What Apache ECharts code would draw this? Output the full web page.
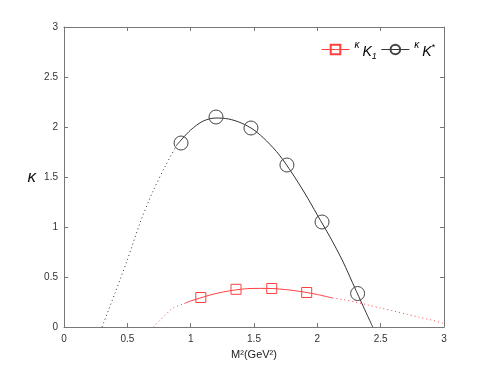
<!DOCTYPE html>
<html>
<head>
<meta charset="utf-8">
<script src="https://cdn.jsdelivr.net/npm/echarts@6/dist/echarts.min.js"></script>
<style>
  html, body { margin: 0; padding: 0; background: #fff; }
  #main { width: 491px; height: 368px; }
</style>
</head>
<body>
<div id="main"></div>
<script>
// K* : measured points (circles) and fitted curve (dotted extrapolation + solid)
const kstarPts = [[0.924, 1.84], [1.2, 2.10], [1.476, 1.99], [1.76, 1.62], [2.037, 1.05], [2.318, 0.335]];
const kstarDotted = [[0.30, 0], [0.4, 0.33], [0.5, 0.67], [0.6, 1.04], [0.7, 1.35], [0.8, 1.61], [0.89, 1.82]];
const kstarSolid = [[0.89, 1.82], [1.0, 1.97], [1.1, 2.06], [1.2, 2.09], [1.3, 2.08], [1.4, 2.04], [1.5, 1.97],
  [1.6, 1.86], [1.7, 1.72], [1.8, 1.54], [1.9, 1.34], [2.0, 1.12], [2.1, 0.90], [2.2, 0.66], [2.3, 0.38], [2.437, 0]];

// K1 : measured points (squares) and fitted curve
const k1Pts = [[1.08, 0.295], [1.358, 0.377], [1.64, 0.385], [1.916, 0.345]];
const k1DottedLeft = [[0.705, 0], [0.8, 0.12], [0.86, 0.19], [0.95, 0.235]];
const k1Solid = [[0.95, 0.235], [1.0, 0.26], [1.1, 0.30], [1.2, 0.335], [1.3, 0.36], [1.4, 0.378], [1.5, 0.386],
  [1.6, 0.386], [1.7, 0.38], [1.8, 0.367], [1.9, 0.348], [2.0, 0.325], [2.12, 0.29]];
const k1DottedRight = [[2.12, 0.29], [2.2, 0.275], [2.3, 0.25], [2.4, 0.22], [2.5, 0.19], [2.6, 0.16],
  [2.7, 0.13], [2.8, 0.10], [2.9, 0.07], [3.0, 0.035]];

const red = '#ff4040';
const black = '#333';
const fontFam = '"Liberation Sans", Arial, sans-serif';

const chart = echarts.init(document.getElementById('main'));

const axisCommon = {
  min: 0, max: 3, interval: 0.5,
  axisLine: { show: true, onZero: false, lineStyle: { color: '#777', width: 1 } },
  axisTick: { show: true, inside: true, length: 4, lineStyle: { color: '#777' } },
  splitLine: { show: false }
};

const lineSeries = (data, color, type) => ({
  type: 'line', data: data, showSymbol: false, symbol: 'none', silent: true,
  smooth: 0.3, lineStyle: { color: color, width: 1, type: type }, z: 2
});

chart.setOption({
  animation: false,
  grid: { left: 64, right: 47, top: 27, bottom: 41 },
  legend: {
    left: 316, top: 35,
    itemWidth: 28, itemHeight: 12, itemGap: 4,
    selectedMode: false,
    data: [
      { name: 'K1', lineStyle: { opacity: 1, color: red, width: 1 } },
      { name: 'Kstar', lineStyle: { opacity: 1, color: black, width: 1 } }
    ],
    formatter: function (name) {
      return name === 'K1' ? '{k|κ}{big|K}{sub|1}' : '{k|κ}{big|K}{sup|*}';
    },
    textStyle: {
      fontFamily: fontFam, color: '#000',
      rich: {
        k: { fontSize: 10, fontStyle: 'italic', padding: [0, 3, 9, 0] },
        big: { fontSize: 14, fontStyle: 'italic', padding: [5, 0, 0, 0] },
        sub: { fontSize: 9, fontStyle: 'italic', padding: [14, 0, 0, 0] },
        sup: { fontSize: 9, padding: [0, 0, 4, 0] }
      }
    }
  },
  xAxis: [
    Object.assign({}, axisCommon, {
      type: 'value', position: 'bottom',
      name: 'M²(GeV²)', nameLocation: 'middle', nameGap: 22,
      nameTextStyle: { fontFamily: fontFam, fontSize: 11, color: '#222' },
      axisLabel: { fontFamily: fontFam, fontSize: 10, color: '#333', margin: 7 }
    }),
    Object.assign({}, axisCommon, { type: 'value', position: 'top', axisLabel: { show: false } })
  ],
  yAxis: [
    Object.assign({}, axisCommon, {
      type: 'value', position: 'left',
      name: 'κ', nameLocation: 'middle', nameGap: 28, nameRotate: 0,
      nameTextStyle: { fontFamily: fontFam, fontSize: 17, fontStyle: 'italic', color: '#111' },
      axisLabel: { fontFamily: fontFam, fontSize: 10, color: '#333', margin: 6 }
    }),
    Object.assign({}, axisCommon, { type: 'value', position: 'right', axisLabel: { show: false } })
  ],
  series: [
    lineSeries(kstarDotted, black, [1, 3]),
    lineSeries(kstarSolid, black, 'solid'),
    lineSeries(k1DottedLeft, red, [1, 3]),
    lineSeries(k1Solid, red, 'solid'),
    lineSeries(k1DottedRight, red, [1, 3]),
    {
      name: 'K1', type: 'line', data: k1Pts, symbol: 'rect', symbolSize: 10,
      lineStyle: { opacity: 0 }, silent: true,
      itemStyle: { color: 'rgba(0,0,0,0)', borderColor: red, borderWidth: 1 }, z: 3
    },
    {
      name: 'Kstar', type: 'line', data: kstarPts, symbol: 'circle', symbolSize: 14,
      lineStyle: { opacity: 0 }, silent: true,
      itemStyle: { color: 'rgba(0,0,0,0)', borderColor: '#444', borderWidth: 1 }, z: 3
    }
  ]
});
</script>
</body>
</html>
